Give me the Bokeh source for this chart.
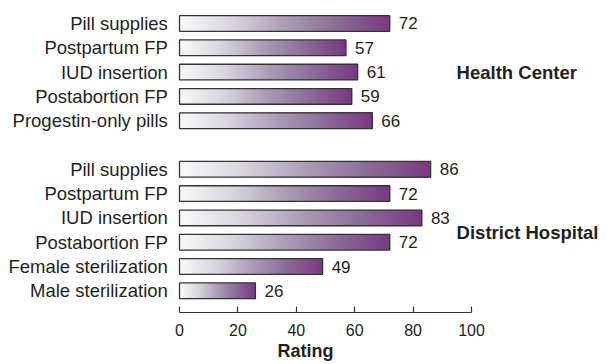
from bokeh.plotting import figure
from bokeh.models import Range1d, ColumnDataSource, FixedTicker
from bokeh.core.properties import value
from bokeh.embed import file_html
from bokeh.resources import INLINE

# Ratings of family-planning services by facility type
hc_services = ["Pill supplies", "Postpartum FP", "IUD insertion",
               "Postabortion FP", "Progestin-only pills"]
hc_ratings = [72, 57, 61, 59, 66]

dh_services = ["Pill supplies", "Postpartum FP", "IUD insertion",
               "Postabortion FP", "Female sterilization", "Male sterilization"]
dh_ratings = [86, 72, 83, 72, 49, 26]

group_names = ["Health Center", "District Hospital"]
x_ticks = [0, 20, 40, 60, 80, 100]

FONT = "Liberation Sans"
TEXT = "#231f20"

# Row slots: health-centre rows, one blank slot, then hospital rows
hc_rows = list(range(len(hc_services)))
dh_start = len(hc_services) + 1
dh_rows = [dh_start + i for i in range(len(dh_services))]

services = hc_services + dh_services
ratings = hc_ratings + dh_ratings
rows = hc_rows + dh_rows

HALF = 0.3225  # half bar thickness in slot units

# Colour stops for the white-to-plum fill along each bar
stops = [(0.0, (249, 249, 250)), (0.25, (217, 213, 223)), (0.5, (172, 157, 183)),
         (0.75, (139, 108, 151)), (1.0, (122, 56, 132))]


def ramp(t):
    for (t0, c0), (t1, c1) in zip(stops[:-1], stops[1:]):
        if t <= t1:
            f = (t - t0) / (t1 - t0)
            return "#%02x%02x%02x" % tuple(round(a + (b - a) * f) for a, b in zip(c0, c1))
    return "#%02x%02x%02x" % stops[-1][1]


N = 80
seg = dict(left=[], right=[], bottom=[], top=[], color=[])
for v, r in zip(ratings, rows):
    for i in range(N):
        seg["left"].append(v * i / N)
        seg["right"].append(v)
        seg["bottom"].append(r + HALF)
        seg["top"].append(r - HALF)
        seg["color"].append(ramp((i + 0.5) / N))

p = figure(frame_width=610, frame_height=312,
           x_range=Range1d(-61.3, 147.6), y_range=Range1d(11.893, -0.9465),
           output_backend="svg", toolbar_location=None, min_border=0,
           y_axis_location=None)
p.xgrid.visible = False
p.ygrid.visible = False
p.outline_line_color = None

p.quad(left="left", right="right", bottom="bottom", top="top",
       fill_color="color", line_color=None, source=ColumnDataSource(seg))

bars = ColumnDataSource(dict(y=rows, v=ratings, label=services,
                             lab=[str(v) for v in ratings],
                             lx=[v + 3.1 for v in ratings],
                             cx=[-4.0] * len(rows)))
p.hbar(y="y", right="v", left=0, height=2 * HALF, fill_color=None,
       line_color="#333333", line_width=1.3, source=bars)

p.text(x="cx", y="y", text="label", source=bars, text_align="right",
       text_baseline="middle", text_font=value(FONT), text_font_size="18.5px",
       text_color=TEXT)
p.text(x="lx", y="y", text="lab", source=bars, text_align="left",
       text_baseline="middle", text_font=value(FONT), text_font_size="17px",
       text_color=TEXT)

groups = ColumnDataSource(dict(
    x=[94.9, 94.9],
    y=[sum(hc_rows) / len(hc_rows), sum(dh_rows) / len(dh_rows) + 0.1],
    name=group_names))
p.text(x="x", y="y", text="name", source=groups, text_align="left",
       text_baseline="middle", text_font=value(FONT), text_font_size="18.5px",
       text_font_style="bold", text_color=TEXT)

ax = p.xaxis[0]
ax.bounds = (0, 100)
ax.ticker = FixedTicker(ticks=x_ticks)
ax.major_tick_in = 6
ax.major_tick_out = 0
ax.minor_tick_line_color = None
ax.axis_line_color = "#333333"
ax.axis_line_width = 1.2
ax.major_tick_line_color = "#333333"
ax.major_tick_line_width = 1.2
ax.major_label_standoff = 11
ax.major_label_text_font = FONT
ax.major_label_text_font_size = "16px"
ax.major_label_text_color = TEXT
ax.axis_label = "Rating"
ax.axis_label_standoff = 2
ax.axis_label_text_font = FONT
ax.axis_label_text_font_size = "18px"
ax.axis_label_text_font_style = "bold"
ax.axis_label_text_color = TEXT

open("out.html", "w").write(file_html(p, INLINE))
